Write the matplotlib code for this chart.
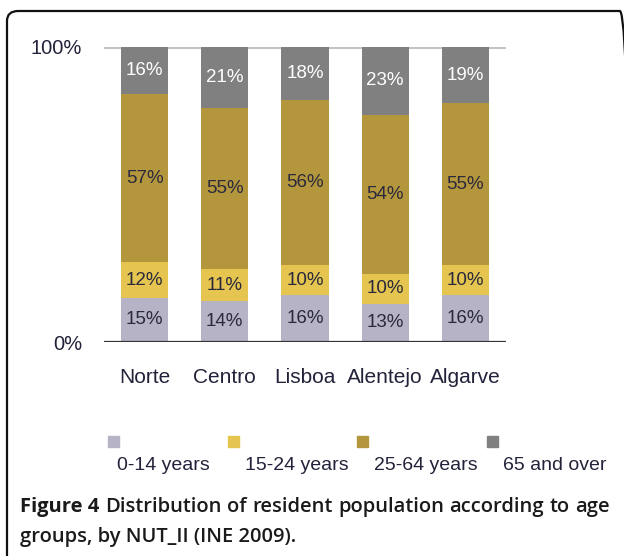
import matplotlib
matplotlib.use('Agg')
import matplotlib.pyplot as plt
from matplotlib.patches import FancyBboxPatch, Rectangle
import numpy as np

# data (percent of resident population)
regions = ['Norte', 'Centro', 'Lisboa', 'Alentejo', 'Algarve']
age_groups = ['0-14 years', '15-24 years', '25-64 years', '65 and over']
age_0_14 = [15, 14, 16, 13, 16]
age_15_24 = [12, 11, 10, 10, 10]
age_25_64 = [57, 55, 56, 54, 55]
age_65_plus = [16, 21, 18, 23, 19]

colors = ['#b6b3c7', '#e5c54f', '#b4963c', '#808080']
label_colors = ['#2a2a3c', '#2a2a3c', '#2a2a3c', 'white']

W, H = 624, 556
fig = plt.figure(figsize=(W / 100, H / 100), dpi=100)

# rounded frame, cut off at the right and bottom
frame = FancyBboxPatch((7 / W, -30 / H), 624 / W, (H - 11 + 30) / H,
                       boxstyle='round,pad=0,rounding_size=0.018',
                       transform=fig.transFigure, fill=False,
                       edgecolor='#111111', linewidth=1.6)
fig.patches.append(frame)

ax = fig.add_axes([104.4 / W, (H - 342) / H, 401.2 / W, 295 / H])
x = np.arange(len(regions))
series = [age_0_14, age_15_24, age_25_64, age_65_plus]
totals = np.sum(series, axis=0)

bottom = np.zeros(len(regions))
for vals, col, tcol in zip(series, colors, label_colors):
    h = np.array(vals) / totals * 100
    ax.bar(x, h, width=0.586, bottom=bottom, color=col, zorder=2)
    for xi, b, hi, v in zip(x, bottom, h, vals):
        ax.text(xi, b + hi / 2, f'{v}%', ha='center', va='center',
                fontsize=13.5, color=tcol, family='Liberation Sans', zorder=3)
    bottom += h

ax.axhline(100, color='#c4c4c4', lw=2.2, zorder=1)
ax.axhline(0, color='#333333', lw=1.6, zorder=3)
ax.set_xlim(-0.5, 4.5)
ax.set_ylim(0, 100)
for s in ax.spines.values():
    s.set_visible(False)
ax.set_yticks([0, 100])
ax.set_yticklabels(['0%', '100%'], family='Liberation Sans', fontsize=14.5, color='#22223a')
ax.set_xticks(x)
ax.set_xticklabels(regions, family='Liberation Sans', fontsize=15, color='#22223a')
ax.tick_params(axis='y', length=0, pad=16)
ax.tick_params(axis='x', length=0, pad=19)

# legend: square above each label
sq_x = [108, 228, 357, 487]
txt_x = [117, 245, 374, 503]
for sx, tx, col, lab in zip(sq_x, txt_x, colors, age_groups):
    fig.patches.append(Rectangle((sx / W, (H - 447) / H), 11 / W, 11 / H,
                                 transform=fig.transFigure, color=col))
    fig.text(tx / W, (H - 465) / H, lab, ha='left', va='center',
             fontsize=14, family='Liberation Sans', color='#22223a')

# caption, first line justified
cap_font = dict(family='Open Sans', fontsize=14.5, color='#1a1a1a')
left, right = 20, 610
y1 = (H - 507) / H
y2 = (H - 537) / H
words = ['Figure 4', 'Distribution', 'of', 'resident', 'population',
         'according', 'to', 'age']
fig.canvas.draw()
r = fig.canvas.get_renderer()
objs = []
for i, w in enumerate(words):
    t = fig.text(0, y1, w, va='center', ha='left',
                 fontweight='bold' if i == 0 else 'semibold', **cap_font)
    objs.append(t)
widths = [t.get_window_extent(r).width for t in objs]
gap = (right - left - sum(widths)) / (len(words) - 1)
pos = left
for t, wd in zip(objs, widths):
    t.set_x(pos / W)
    pos += wd + gap
fig.text(left / W, y2, 'groups, by NUT_II (INE 2009).', va='center', ha='left',
         fontweight='semibold', **cap_font)

fig.savefig('out.png', dpi=100)
